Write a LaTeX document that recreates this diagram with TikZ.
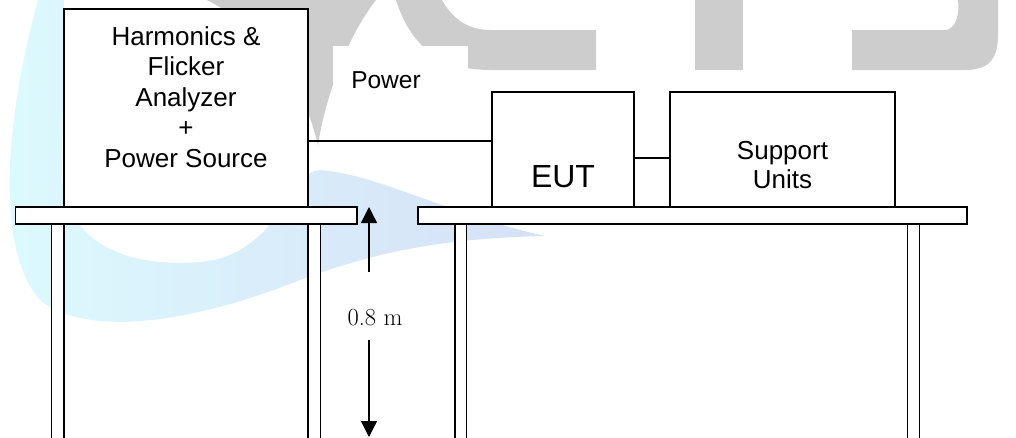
\documentclass[tikz,border=0pt]{standalone}
\usepackage{fontspec}
\setmainfont{Liberation Sans}
\newfontfamily\dimfont{Latin Modern Roman}
\usetikzlibrary{arrows.meta}
\definecolor{wmgray}{RGB}{205,205,205}
\definecolor{wmcyan}{RGB}{220,250,254}
\definecolor{wmblue}{RGB}{214,224,246}
\begin{document}
\begin{tikzpicture}[x=1pt,y=-1pt,
  box/.style={draw=black, fill=white, line width=1.5pt, inner sep=0pt},
  tabletop/.style={draw=black, fill=white, line width=1.4pt},
  leg/.style={draw=black, fill=white, line width=1.4pt},
  wire/.style={draw=black, line width=1.9pt},
  lbl/.style={inner sep=0pt, align=center},
  dimarrow/.style={line width=1.3pt, -{Triangle[length=16pt,width=16pt]}},
]
\useasboundingbox (0,0) rectangle (1016,437);
\clip (0,0) rectangle (1016,437);
% watermark
\shade[left color=wmcyan, right color=wmblue]
  (38,0) .. controls (5,120) and (-5,250) .. (40,300)
  .. controls (90,340) and (200,320) .. (300,280)
  .. controls (380,250) and (450,238) .. (545,236)
  .. controls (450,215) and (380,175) .. (320,170)
  .. controls (290,170) and (280,255) .. (200,262)
  .. controls (120,268) and (70,240) .. (62,180) -- (64,0) -- cycle;
\fill[wmgray] (207,0) .. controls (255,25) and (300,70) .. (318,145)
  .. controls (325,100) and (345,40) .. (376,0) -- cycle;
\fill[wmgray] (396,0) .. controls (410,45) and (440,70) .. (490,70) -- (596,70)
  -- (596,30) -- (490,30) .. controls (465,30) and (450,15) .. (442,0) -- cycle;
\fill[wmgray] (695,0) rectangle (743,70);
\fill[wmgray] (852,30) -- (945,30) .. controls (955,30) and (960,15) .. (958,0)
  -- (998,0) -- (998,35) .. controls (998,60) and (988,70) .. (965,70) -- (852,70) -- cycle;
% tables
\draw[leg] (51.7,224) rectangle (64,450);
\draw[leg] (308,224) rectangle (320.7,450);
\draw[leg] (455,224) rectangle (466.5,450);
\draw[leg] (907.7,224) rectangle (919.3,450);
\draw[tabletop] (15.3,207) rectangle (357,224);
\draw[tabletop] (418,207) rectangle (967,224);
% power label backing
\fill[white] (333.3,45.7) rectangle (468.3,115.7);
% boxes
\node[box, minimum width=244pt, minimum height=198pt] (analyzer) at (186,108) {};
\node[box, minimum width=142pt, minimum height=115pt] (eut) at (563,149.5) {};
\node[box, minimum width=225pt, minimum height=115pt] (support) at (782.5,149.5) {};
% labels
\node[lbl, anchor=north, font=\fontsize{26}{30.5}\selectfont] (anlbl) at (186,26.4)
  {Harmonics \&\\Flicker\\Analyzer\\+\\Power Source};
\node[lbl, anchor=north, font=\fontsize{26}{29.5}\selectfont] (suplbl) at (782.5,140.7)
  {Support\\Units};
\node[lbl, anchor=base, font=\fontsize{32}{38}\selectfont] (eutlbl) at (563,187) {EUT};
\node[lbl, anchor=base, font=\fontsize{24.5}{29}\selectfont] (pwrlbl) at (386,88) {Power};
\node[lbl, anchor=base, font=\dimfont\fontsize{24.5}{29}\selectfont] (dimlbl) at (375,325) {0.8 m};
% connectors
\draw[wire] (analyzer.east |- 0,141) -- (eut.west |- 0,141);
\draw[wire] (eut.east |- 0,158) -- (support.west |- 0,158);
\coordinate (dimtopend) at (369,272);
\coordinate (dimtoptip) at (369,207);
\coordinate (dimbotend) at (369,340);
\coordinate (dimbottip) at (369,437);
\draw[dimarrow] (dimtopend) -- (dimtoptip);
\draw[dimarrow] (dimbotend) -- (dimbottip);
\end{tikzpicture}
\end{document}
